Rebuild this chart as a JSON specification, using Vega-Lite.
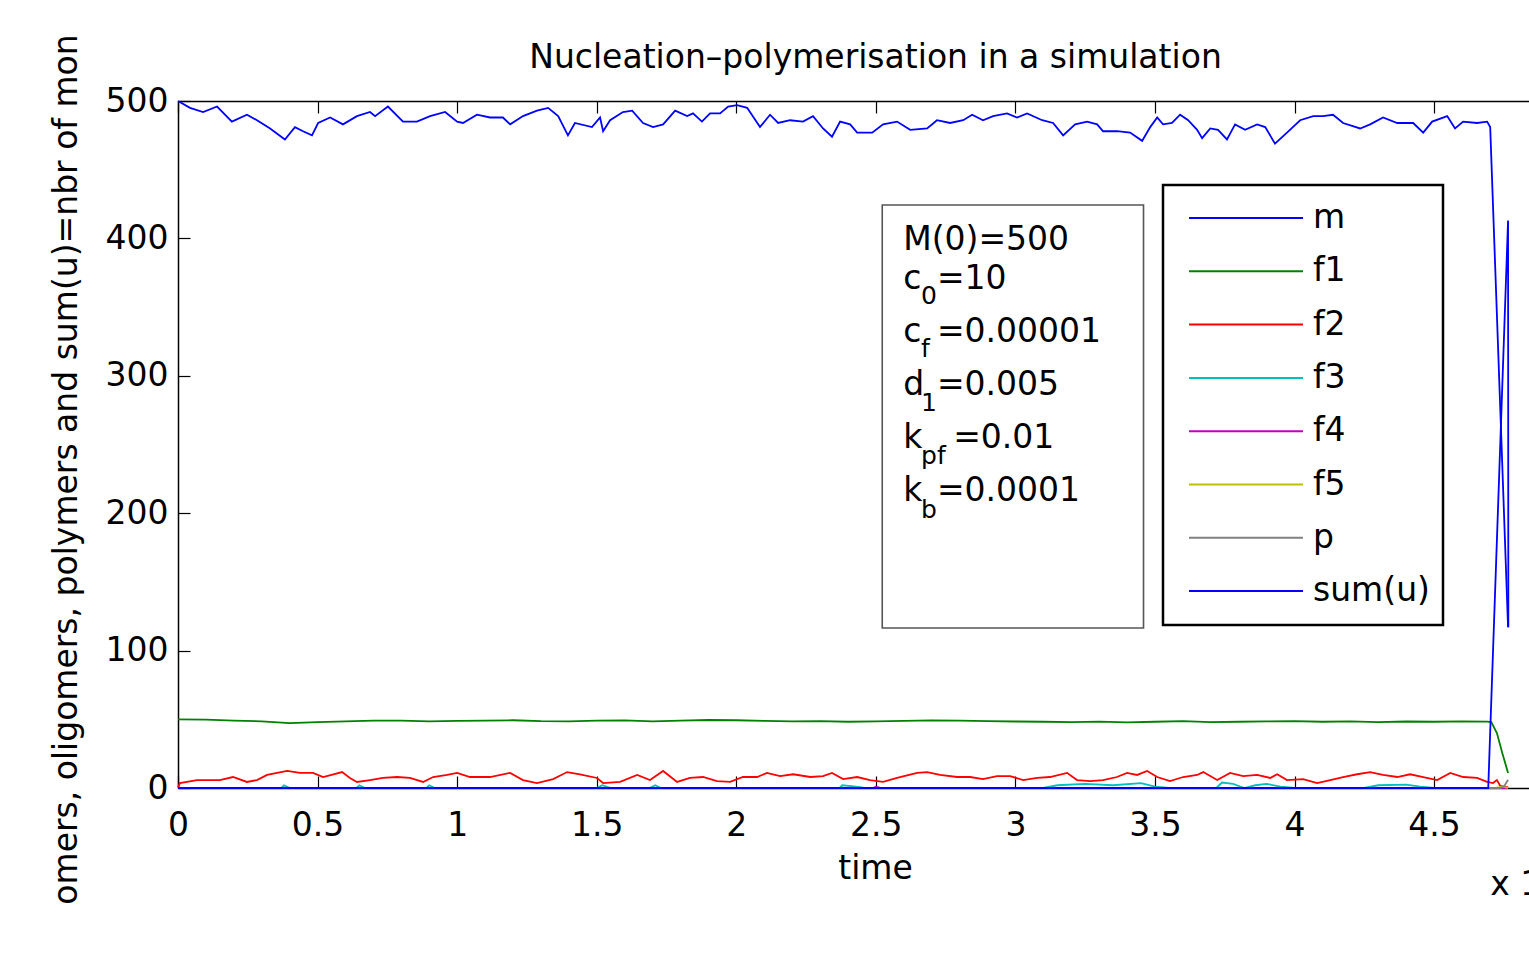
{
  "$schema": "https://vega.github.io/schema/vega-lite/v6.json",
  "width": 1351,
  "height": 687,
  "autosize": {"type": "none"},
  "padding": {"left": 178, "top": 101, "right": 0, "bottom": 167},
  "background": "white",
  "title": {
    "text": "Nucleation–polymerisation in a simulation",
    "font": "DejaVu Sans",
    "fontSize": 33,
    "fontWeight": "normal",
    "color": "black",
    "anchor": "middle",
    "dx": 22,
    "dy": 67,
    "baseline": "alphabetic",
    "offset": 0
  },
  "config": {
    "view": {"stroke": null},
    "axis": {
      "grid": false,
      "domainColor": "black",
      "domainWidth": 1.5,
      "tickColor": "black",
      "tickWidth": 1.2,
      "labelFont": "DejaVu Sans",
      "labelFontSize": 33,
      "labelColor": "black",
      "titleFont": "DejaVu Sans",
      "titleFontSize": 33,
      "titleFontWeight": "normal",
      "titleColor": "black"
    },
    "legend": {"strokeWidth": 2.5}
  },
  "data": {
    "values": [
      {"s":"m","t":0,"v":500},{"s":"m","t":0.043,"v":495},{"s":"m","t":0.09,"v":492},{"s":"m","t":0.14,"v":496},{"s":"m","t":0.193,"v":485},{"s":"m","t":0.247,"v":490},{"s":"m","t":0.283,"v":486},{"s":"m","t":0.33,"v":480},{"s":"m","t":0.383,"v":472},{"s":"m","t":0.419,"v":481},{"s":"m","t":0.448,"v":478},{"s":"m","t":0.48,"v":475},{"s":"m","t":0.502,"v":484},{"s":"m","t":0.545,"v":488},{"s":"m","t":0.591,"v":483},{"s":"m","t":0.641,"v":489},{"s":"m","t":0.688,"v":492},{"s":"m","t":0.706,"v":489},{"s":"m","t":0.752,"v":496},{"s":"m","t":0.806,"v":485},{"s":"m","t":0.856,"v":485},{"s":"m","t":0.903,"v":489},{"s":"m","t":0.957,"v":492},{"s":"m","t":1.0,"v":485},{"s":"m","t":1.021,"v":484},{"s":"m","t":1.071,"v":490},{"s":"m","t":1.118,"v":488},{"s":"m","t":1.164,"v":488},{"s":"m","t":1.19,"v":483},{"s":"m","t":1.236,"v":489},{"s":"m","t":1.286,"v":493},{"s":"m","t":1.326,"v":495},{"s":"m","t":1.362,"v":489},{"s":"m","t":1.397,"v":475},{"s":"m","t":1.422,"v":484},{"s":"m","t":1.483,"v":481},{"s":"m","t":1.512,"v":488},{"s":"m","t":1.523,"v":478},{"s":"m","t":1.548,"v":486},{"s":"m","t":1.594,"v":492},{"s":"m","t":1.627,"v":493},{"s":"m","t":1.666,"v":484},{"s":"m","t":1.702,"v":481},{"s":"m","t":1.738,"v":483},{"s":"m","t":1.781,"v":493},{"s":"m","t":1.824,"v":489},{"s":"m","t":1.845,"v":491},{"s":"m","t":1.877,"v":485},{"s":"m","t":1.906,"v":491},{"s":"m","t":1.942,"v":491},{"s":"m","t":1.971,"v":496},{"s":"m","t":2.003,"v":497},{"s":"m","t":2.039,"v":495},{"s":"m","t":2.085,"v":481},{"s":"m","t":2.121,"v":490},{"s":"m","t":2.15,"v":484},{"s":"m","t":2.193,"v":486},{"s":"m","t":2.239,"v":485},{"s":"m","t":2.275,"v":489},{"s":"m","t":2.311,"v":480},{"s":"m","t":2.343,"v":474},{"s":"m","t":2.372,"v":485},{"s":"m","t":2.408,"v":483},{"s":"m","t":2.433,"v":477},{"s":"m","t":2.487,"v":477},{"s":"m","t":2.526,"v":483},{"s":"m","t":2.576,"v":485},{"s":"m","t":2.623,"v":479},{"s":"m","t":2.684,"v":480},{"s":"m","t":2.719,"v":486},{"s":"m","t":2.766,"v":484},{"s":"m","t":2.813,"v":486},{"s":"m","t":2.845,"v":490},{"s":"m","t":2.884,"v":486},{"s":"m","t":2.92,"v":489},{"s":"m","t":2.97,"v":491},{"s":"m","t":3.006,"v":488},{"s":"m","t":3.042,"v":491},{"s":"m","t":3.096,"v":486},{"s":"m","t":3.135,"v":484},{"s":"m","t":3.171,"v":475},{"s":"m","t":3.214,"v":483},{"s":"m","t":3.257,"v":485},{"s":"m","t":3.293,"v":483},{"s":"m","t":3.314,"v":478},{"s":"m","t":3.364,"v":478},{"s":"m","t":3.411,"v":477},{"s":"m","t":3.454,"v":471},{"s":"m","t":3.483,"v":481},{"s":"m","t":3.508,"v":488},{"s":"m","t":3.529,"v":483},{"s":"m","t":3.561,"v":484},{"s":"m","t":3.59,"v":490},{"s":"m","t":3.619,"v":486},{"s":"m","t":3.651,"v":479},{"s":"m","t":3.669,"v":473},{"s":"m","t":3.698,"v":480},{"s":"m","t":3.726,"v":479},{"s":"m","t":3.758,"v":472},{"s":"m","t":3.787,"v":483},{"s":"m","t":3.823,"v":479},{"s":"m","t":3.866,"v":483},{"s":"m","t":3.895,"v":481},{"s":"m","t":3.93,"v":469},{"s":"m","t":3.973,"v":477},{"s":"m","t":4.02,"v":486},{"s":"m","t":4.067,"v":489},{"s":"m","t":4.102,"v":489},{"s":"m","t":4.138,"v":490},{"s":"m","t":4.174,"v":484},{"s":"m","t":4.235,"v":480},{"s":"m","t":4.271,"v":483},{"s":"m","t":4.317,"v":488},{"s":"m","t":4.368,"v":484},{"s":"m","t":4.425,"v":484},{"s":"m","t":4.461,"v":477},{"s":"m","t":4.493,"v":485},{"s":"m","t":4.547,"v":489},{"s":"m","t":4.575,"v":480},{"s":"m","t":4.604,"v":485},{"s":"m","t":4.654,"v":484},{"s":"m","t":4.69,"v":485},{"s":"m","t":4.701,"v":481},{"s":"m","t":4.765,"v":117},

      {"s":"f1","t":0,"v":50},{"s":"f1","t":0.1,"v":49.8},{"s":"f1","t":0.2,"v":49},{"s":"f1","t":0.3,"v":48.5},{"s":"f1","t":0.4,"v":47.2},{"s":"f1","t":0.5,"v":48},{"s":"f1","t":0.6,"v":48.5},{"s":"f1","t":0.7,"v":49},{"s":"f1","t":0.8,"v":49},{"s":"f1","t":0.9,"v":48.5},{"s":"f1","t":1.0,"v":48.8},{"s":"f1","t":1.1,"v":49},{"s":"f1","t":1.2,"v":49.3},{"s":"f1","t":1.3,"v":48.6},{"s":"f1","t":1.4,"v":48.5},{"s":"f1","t":1.5,"v":49},{"s":"f1","t":1.6,"v":49.2},{"s":"f1","t":1.7,"v":48.5},{"s":"f1","t":1.8,"v":49},{"s":"f1","t":1.9,"v":49.5},{"s":"f1","t":2.0,"v":49.3},{"s":"f1","t":2.1,"v":48.8},{"s":"f1","t":2.2,"v":48.5},{"s":"f1","t":2.3,"v":48.6},{"s":"f1","t":2.4,"v":48.2},{"s":"f1","t":2.5,"v":48.5},{"s":"f1","t":2.6,"v":48.8},{"s":"f1","t":2.7,"v":49.2},{"s":"f1","t":2.8,"v":49},{"s":"f1","t":2.9,"v":48.6},{"s":"f1","t":3.0,"v":48.4},{"s":"f1","t":3.1,"v":48.2},{"s":"f1","t":3.2,"v":48},{"s":"f1","t":3.3,"v":48.3},{"s":"f1","t":3.4,"v":47.8},{"s":"f1","t":3.5,"v":48.2},{"s":"f1","t":3.6,"v":48.6},{"s":"f1","t":3.7,"v":48},{"s":"f1","t":3.8,"v":48.2},{"s":"f1","t":3.9,"v":48.5},{"s":"f1","t":4.0,"v":48.6},{"s":"f1","t":4.1,"v":48.2},{"s":"f1","t":4.2,"v":48.5},{"s":"f1","t":4.3,"v":48},{"s":"f1","t":4.4,"v":48.4},{"s":"f1","t":4.5,"v":48.2},{"s":"f1","t":4.6,"v":48.5},{"s":"f1","t":4.69,"v":48.3},{"s":"f1","t":4.705,"v":48},{"s":"f1","t":4.725,"v":40},{"s":"f1","t":4.745,"v":25},{"s":"f1","t":4.765,"v":11},

      {"s":"f2","t":0,"v":0.5},{"s":"f2","t":0.007,"v":3.6},{"s":"f2","t":0.068,"v":5.8},{"s":"f2","t":0.15,"v":5.8},{"s":"f2","t":0.197,"v":8},{"s":"f2","t":0.247,"v":4.4},{"s":"f2","t":0.283,"v":5.8},{"s":"f2","t":0.319,"v":9.5},{"s":"f2","t":0.391,"v":12.4},{"s":"f2","t":0.437,"v":11},{"s":"f2","t":0.484,"v":11},{"s":"f2","t":0.52,"v":8},{"s":"f2","t":0.588,"v":11.6},{"s":"f2","t":0.616,"v":7.3},{"s":"f2","t":0.641,"v":4.4},{"s":"f2","t":0.688,"v":5.8},{"s":"f2","t":0.734,"v":7.3},{"s":"f2","t":0.785,"v":8},{"s":"f2","t":0.831,"v":7.3},{"s":"f2","t":0.878,"v":4.4},{"s":"f2","t":0.914,"v":8},{"s":"f2","t":0.964,"v":9.5},{"s":"f2","t":1.0,"v":11},{"s":"f2","t":1.046,"v":8},{"s":"f2","t":1.118,"v":8},{"s":"f2","t":1.19,"v":11},{"s":"f2","t":1.236,"v":5.8},{"s":"f2","t":1.286,"v":3.6},{"s":"f2","t":1.344,"v":6.5},{"s":"f2","t":1.394,"v":11.6},{"s":"f2","t":1.44,"v":10},{"s":"f2","t":1.501,"v":7.3},{"s":"f2","t":1.523,"v":3.6},{"s":"f2","t":1.584,"v":4.4},{"s":"f2","t":1.645,"v":9.5},{"s":"f2","t":1.691,"v":5.8},{"s":"f2","t":1.738,"v":12.4},{"s":"f2","t":1.788,"v":4.4},{"s":"f2","t":1.834,"v":7.3},{"s":"f2","t":1.881,"v":8},{"s":"f2","t":1.931,"v":5},{"s":"f2","t":1.978,"v":4.4},{"s":"f2","t":2.024,"v":8},{"s":"f2","t":2.075,"v":8},{"s":"f2","t":2.11,"v":11},{"s":"f2","t":2.157,"v":8.7},{"s":"f2","t":2.204,"v":10},{"s":"f2","t":2.265,"v":8},{"s":"f2","t":2.311,"v":8.7},{"s":"f2","t":2.343,"v":11},{"s":"f2","t":2.383,"v":6.5},{"s":"f2","t":2.433,"v":8},{"s":"f2","t":2.479,"v":5.8},{"s":"f2","t":2.526,"v":4.4},{"s":"f2","t":2.576,"v":7.3},{"s":"f2","t":2.648,"v":11},{"s":"f2","t":2.684,"v":11.6},{"s":"f2","t":2.73,"v":9.5},{"s":"f2","t":2.791,"v":8},{"s":"f2","t":2.838,"v":8},{"s":"f2","t":2.884,"v":6.5},{"s":"f2","t":2.934,"v":8.7},{"s":"f2","t":2.981,"v":8.7},{"s":"f2","t":3.028,"v":5.8},{"s":"f2","t":3.078,"v":7.3},{"s":"f2","t":3.124,"v":8},{"s":"f2","t":3.185,"v":11},{"s":"f2","t":3.221,"v":5.8},{"s":"f2","t":3.268,"v":5},{"s":"f2","t":3.314,"v":5.8},{"s":"f2","t":3.364,"v":8},{"s":"f2","t":3.4,"v":11},{"s":"f2","t":3.436,"v":9.5},{"s":"f2","t":3.472,"v":12.4},{"s":"f2","t":3.508,"v":8},{"s":"f2","t":3.554,"v":5},{"s":"f2","t":3.601,"v":8},{"s":"f2","t":3.651,"v":9.5},{"s":"f2","t":3.673,"v":11.6},{"s":"f2","t":3.723,"v":5.8},{"s":"f2","t":3.769,"v":11},{"s":"f2","t":3.816,"v":8.7},{"s":"f2","t":3.866,"v":9.5},{"s":"f2","t":3.913,"v":7.3},{"s":"f2","t":3.938,"v":10},{"s":"f2","t":3.973,"v":5.8},{"s":"f2","t":4.031,"v":6.5},{"s":"f2","t":4.081,"v":3.6},{"s":"f2","t":4.128,"v":5.8},{"s":"f2","t":4.174,"v":8},{"s":"f2","t":4.224,"v":10},{"s":"f2","t":4.271,"v":11.6},{"s":"f2","t":4.317,"v":9.5},{"s":"f2","t":4.368,"v":8},{"s":"f2","t":4.414,"v":10},{"s":"f2","t":4.461,"v":8},{"s":"f2","t":4.511,"v":5.8},{"s":"f2","t":4.558,"v":11},{"s":"f2","t":4.604,"v":8},{"s":"f2","t":4.654,"v":7.3},{"s":"f2","t":4.69,"v":4.4},{"s":"f2","t":4.711,"v":3.6},{"s":"f2","t":4.725,"v":5.8},{"s":"f2","t":4.737,"v":1.5},{"s":"f2","t":4.765,"v":0.5},

      {"s":"f3","t":0,"v":0},{"s":"f3","t":0.37,"v":0},{"s":"f3","t":0.38,"v":2},{"s":"f3","t":0.4,"v":0},{"s":"f3","t":0.64,"v":0},{"s":"f3","t":0.65,"v":2},{"s":"f3","t":0.67,"v":0},{"s":"f3","t":0.89,"v":0},{"s":"f3","t":0.9,"v":2},{"s":"f3","t":0.92,"v":0},{"s":"f3","t":1.5,"v":0},{"s":"f3","t":1.52,"v":2},{"s":"f3","t":1.55,"v":0},{"s":"f3","t":1.69,"v":0},{"s":"f3","t":1.71,"v":2},{"s":"f3","t":1.73,"v":0},{"s":"f3","t":2.37,"v":0},{"s":"f3","t":2.38,"v":2},{"s":"f3","t":2.43,"v":1},{"s":"f3","t":2.46,"v":0},{"s":"f3","t":3.1,"v":0},{"s":"f3","t":3.15,"v":2},{"s":"f3","t":3.25,"v":3},{"s":"f3","t":3.35,"v":2},{"s":"f3","t":3.45,"v":3.5},{"s":"f3","t":3.5,"v":1},{"s":"f3","t":3.55,"v":0},{"s":"f3","t":3.72,"v":0},{"s":"f3","t":3.74,"v":4},{"s":"f3","t":3.78,"v":3},{"s":"f3","t":3.82,"v":0},{"s":"f3","t":3.86,"v":2},{"s":"f3","t":3.9,"v":3},{"s":"f3","t":3.95,"v":1},{"s":"f3","t":4.0,"v":0},{"s":"f3","t":4.25,"v":0},{"s":"f3","t":4.3,"v":2},{"s":"f3","t":4.4,"v":2.5},{"s":"f3","t":4.45,"v":1},{"s":"f3","t":4.5,"v":0},{"s":"f3","t":4.765,"v":0},

      {"s":"f4","t":0,"v":0},{"s":"f4","t":2.49,"v":0},{"s":"f4","t":2.5,"v":1},{"s":"f4","t":2.52,"v":0},{"s":"f4","t":4.765,"v":0},

      {"s":"f5","t":0,"v":0},{"s":"f5","t":4.72,"v":0},{"s":"f5","t":4.745,"v":1},{"s":"f5","t":4.765,"v":0},

      {"s":"p","t":0,"v":0},{"s":"p","t":4.735,"v":0},{"s":"p","t":4.75,"v":1},{"s":"p","t":4.765,"v":6},

      {"s":"sum(u)","t":0,"v":0},{"s":"sum(u)","t":4.694,"v":0},{"s":"sum(u)","t":4.765,"v":413},{"s":"sum(u)","t":4.766,"v":117}
    ]
  },
  "resolve": {"axis": {"x": "independent"}},
  "layer": [
    {
      "mark": {"type": "line", "strokeWidth": 1.8},
      "encoding": {
        "x": {
          "field": "t",
          "type": "quantitative",
          "scale": {"domain": [0, 4.84], "nice": false, "zero": false},
          "axis": {
            "orient": "bottom",
            "values": [0, 0.5, 1, 1.5, 2, 2.5, 3, 3.5, 4, 4.5],
            "format": "~g",
            "tickSize": -12,
            "labelPadding": 59,
            "labelBaseline": "alphabetic",
            "labelFlush": false,
            "labelOverlap": false,
            "title": "time",
            "titleX": 697,
            "titleY": 90,
            "titleBaseline": "alphabetic",
            "titleAlign": "center"
          }
        },
        "y": {
          "field": "v",
          "type": "quantitative",
          "scale": {"domain": [0, 500], "nice": false},
          "axis": {
            "values": [0, 100, 200, 300, 400, 500],
            "tickSize": -12,
            "labelPadding": 22,
            "labelBaseline": "middle",
            "labelFlush": false,
            "labelOverlap": false,
            "title": "omers, oligomers, polymers and sum(u)=nbr of mon",
            "titleX": -102,
            "titleY": 368,
            "titleAngle": 270,
            "titleBaseline": "alphabetic",
            "titleAlign": "center"
          }
        },
        "color": {
          "field": "s",
          "type": "nominal",
          "scale": {
            "domain": ["m", "f1", "f2", "f3", "f4", "f5", "p", "sum(u)"],
            "range": ["#0000ff", "#008000", "#ff0000", "#00bfbf", "#bf00bf", "#bfbf00", "#808080", "#0000ff"]
          },
          "legend": {
            "orient": "none",
            "legendX": 985,
            "legendY": 84,
            "title": null,
            "symbolType": "stroke",
            "symbolSize": 12996,
            "symbolStrokeWidth": 2,
            "clipHeight": 40,
            "rowPadding": 13.3,
            "padding": 13,
            "strokeColor": "black",
            "fillColor": "white",
            "labelFont": "DejaVu Sans",
            "labelFontSize": 33,
            "labelColor": "black",
            "labelOffset": 9,
            "symbolOffset": 12,
            "labelLimit": 300
          }
        }
      }
    },
    {
      "data": {"values": [{}]},
      "mark": {"type": "rect", "fill": "white", "stroke": "#555555", "strokeWidth": 1.6},
      "encoding": {
        "x": {
          "datum": 2.523,
          "type": "quantitative",
          "axis": {
            "orient": "top",
            "values": [0, 0.5, 1, 1.5, 2, 2.5, 3, 3.5, 4, 4.5],
            "labels": false,
            "tickSize": -12,
            "title": null
          }
        },
        "x2": {"datum": 3.459},
        "y": {"datum": 424.3, "type": "quantitative"},
        "y2": {"datum": 116.4}
      }
    },
    {
      "data": {"values": [{}]},
      "mark": {"type": "text", "font": "DejaVu Sans", "fontSize": 33, "color": "black", "align": "left", "baseline": "middle"},
      "encoding": {
        "x": {"datum": 2.598, "type": "quantitative", "axis": null},
        "y": {"datum": 398.8, "type": "quantitative"},
        "text": {"value": "M(0)=500"}
      }
    },
    {
      "data": {"values": [{}]},
      "mark": {"type": "text", "font": "DejaVu Sans", "fontSize": 33, "color": "black", "align": "left", "baseline": "middle", "lineHeight": 53},
      "encoding": {
        "x": {"datum": 2.598, "type": "quantitative", "axis": null},
        "y": {"datum": 370.5, "type": "quantitative"},
        "text": {"value": ["c", "c", "d", "k", "k"]}
      }
    },
    {
      "data": {"values": [{}]},
      "mark": {"type": "text", "font": "DejaVu Sans", "fontSize": 33, "color": "black", "align": "left", "baseline": "middle", "lineHeight": 53},
      "encoding": {
        "x": {"datum": 2.719, "type": "quantitative", "axis": null},
        "y": {"datum": 370.5, "type": "quantitative"},
        "text": {"value": ["=10", "=0.00001", "=0.005"]}
      }
    },
    {
      "data": {"values": [{}]},
      "mark": {"type": "text", "font": "DejaVu Sans", "fontSize": 33, "color": "black", "align": "left", "baseline": "middle"},
      "encoding": {
        "x": {"datum": 2.777, "type": "quantitative", "axis": null},
        "y": {"datum": 254.7, "type": "quantitative"},
        "text": {"value": "=0.01"}
      }
    },
    {
      "data": {"values": [{}]},
      "mark": {"type": "text", "font": "DejaVu Sans", "fontSize": 33, "color": "black", "align": "left", "baseline": "middle"},
      "encoding": {
        "x": {"datum": 2.719, "type": "quantitative", "axis": null},
        "y": {"datum": 216.2, "type": "quantitative"},
        "text": {"value": "=0.0001"}
      }
    },
    {
      "data": {"values": [{}]},
      "mark": {"type": "text", "font": "DejaVu Sans", "fontSize": 25, "color": "black", "align": "left", "baseline": "middle", "lineHeight": 53.5},
      "encoding": {
        "x": {"datum": 2.662, "type": "quantitative", "axis": null},
        "y": {"datum": 358.1, "type": "quantitative"},
        "text": {"value": ["0", "f", "1", "pf", "b"]}
      }
    },
    {
      "data": {"values": [{}]},
      "mark": {"type": "text", "font": "DejaVu Sans", "fontSize": 33, "color": "black", "align": "left", "baseline": "middle"},
      "encoding": {
        "x": {"datum": 4.701, "type": "quantitative", "axis": null},
        "y": {"datum": -70.6, "type": "quantitative"},
        "text": {"value": "x 10⁴"}
      }
    }
  ]
}
